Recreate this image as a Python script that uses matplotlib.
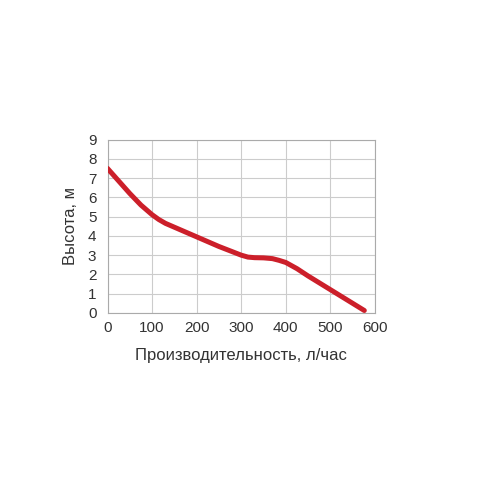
import matplotlib
matplotlib.use("Agg")
import matplotlib.pyplot as plt

flow = [0, 25, 50, 75, 100, 115, 130, 150, 175, 200, 250, 300, 315, 330, 350, 370, 385, 400, 425, 450, 500, 550, 576]
head = [7.5, 6.85, 6.2, 5.6, 5.1, 4.85, 4.65, 4.45, 4.2, 3.95, 3.45, 3.0, 2.9, 2.87, 2.86, 2.82, 2.73, 2.62, 2.3, 1.92, 1.21, 0.5, 0.13]
xticks = [0, 100, 200, 300, 400, 500, 600]
yticks = list(range(10))

plt.rcParams['font.family'] = ['Liberation Sans', 'DejaVu Sans']

fig = plt.figure(figsize=(5, 5), dpi=100)
ax = fig.add_axes([0.215, 0.374, 0.535, 0.347])
ax.plot(flow, head, color='#cc1f2a', lw=3.6, solid_capstyle='round', solid_joinstyle='round', zorder=3)
ax.set_xlim(0, 600)
ax.set_ylim(0, 9)
ax.set_xticks(xticks)
ax.set_yticks(yticks)
ax.grid(True, color='#cccccc', lw=0.8)
for s in ax.spines.values():
    s.set_color('#aaaaaa')
    s.set_linewidth(0.8)
ax.tick_params(length=0, labelsize=11, colors='#333333')
ax.tick_params(axis='y', pad=8)
ax.tick_params(axis='x', pad=6)
ax.set_xlabel('Производительность, л/час', fontsize=12, color='#333333', labelpad=9)
ax.set_ylabel('Высота, м', fontsize=12, color='#333333', labelpad=7)
fig.savefig('out.png', dpi=100)
